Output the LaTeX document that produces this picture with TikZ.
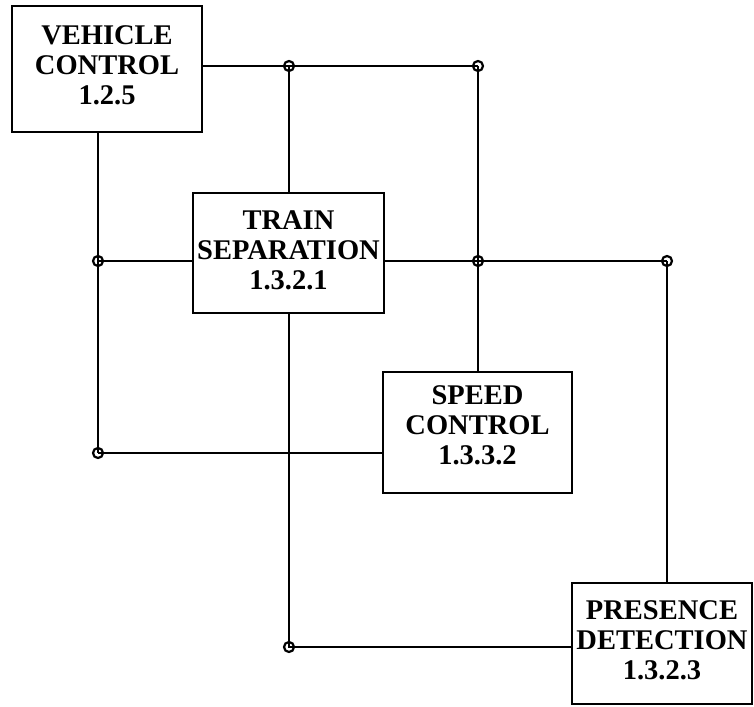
\documentclass[tikz,border=0pt]{standalone}
\usepackage{fontspec}
\newfontfamily\boxfont{Liberation Serif}
\newcommand\mylines[3]{\begin{tabular}{@{}c@{}}#1\\#2\\#3\end{tabular}}
\begin{document}
\begin{tikzpicture}[x=1pt,y=-1pt,
  blk/.style={draw, line width=2.3pt, inner sep=0pt, font=\boxfont\bfseries\fontsize{28.5}{30}\selectfont},
  wire/.style={line width=2.6pt},
  jn/.style={line width=2.2pt}]
\useasboundingbox (0,0) rectangle (754,706);
\node[blk, minimum width=190pt, minimum height=126pt] (vc) at (107,69) {\mylines{VEHICLE}{CONTROL}{1.2.5}};
\node[blk, minimum width=191pt, minimum height=120pt] (ts) at (288.5,253) {\mylines{TRAIN}{SEPARATION}{1.3.2.1}};
\node[blk, minimum width=189pt, minimum height=121pt] (sc) at (477.5,432.5) {\raisebox{4pt}[\height][\depth]{\mylines{SPEED}{CONTROL}{1.3.3.2}}};
\node[blk, minimum width=180pt, minimum height=121pt] (pd) at (662,643.5) {\mylines{PRESENCE}{DETECTION}{1.3.2.3}};
\coordinate (c1) at (289,66);
\coordinate (c2) at (478,66);
\coordinate (c3) at (478,261);
\coordinate (c4) at (98,261);
\coordinate (c5) at (98,453);
\coordinate (c6) at (667,261);
\coordinate (c7) at (289,647);
\draw[wire] (vc.east |- c1) -- (c1) -- (c2);
\draw[wire] (c1) -- (c1 |- ts.north);
\draw[wire] (c2) -- (c3) -- (c3 |- sc.north);
\draw[wire] (c4 |- vc.south) -- (c4) -- (c5);
\draw[wire] (c4) -- (c4 -| ts.west);
\draw[wire] (ts.east |- c3) -- (c3) -- (c6);
\draw[wire] (c6) -- (c6 |- pd.north);
\draw[wire] (c5) -- (c5 -| sc.west);
\draw[wire] (c7 |- ts.south) -- (c7) -- (c7 -| pd.west);
\foreach \c in {c1,c2,c3,c4,c5,c6,c7} \draw[jn] (\c) circle (5);
\end{tikzpicture}
\end{document}
